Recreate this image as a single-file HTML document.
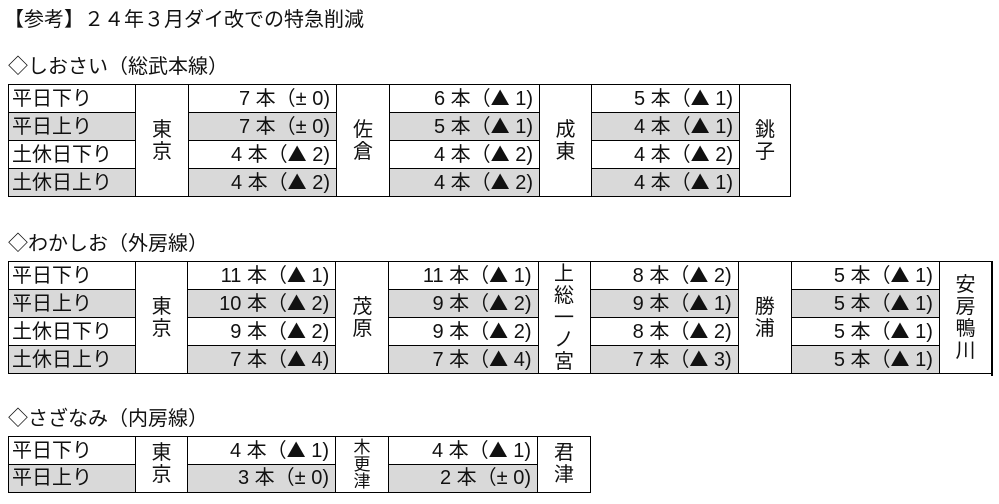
<!DOCTYPE html>
<html><head><meta charset="utf-8"><style>
body{margin:0;width:999px;height:504px;background:#fff;font-family:"Liberation Sans","Noto Sans CJK JP",sans-serif;color:#111;position:relative;overflow:hidden}
.t{position:absolute;font-size:20px;white-space:nowrap;line-height:24px}
table{position:absolute;border-collapse:collapse;font-size:20px;left:8px;table-layout:fixed}
td{border:1.5px solid #000;height:27.5px;padding:0;line-height:26px;white-space:nowrap;overflow:hidden;box-sizing:border-box}
td.l{padding-left:3px;text-align:left}
td.c{text-align:right;padding-right:6px}
td.s{text-align:center;line-height:22px;vertical-align:middle}
tr.g td.l,tr.g td.c{background:#d9d9d9}
b{font-weight:normal;font-family:"Noto Sans CJK JP",sans-serif;font-size:19px}
</style></head><body>
<div class="t" style="left:4px;top:8px">【参考】２４年３月ダイ改での特急削減</div>
<div class="t" style="left:8px;top:55px">◇しおさい（総武本線）</div>
<table style="top:84px;width:782px">
<colgroup><col style="width:127px"><col style="width:53px"><col style="width:148px"><col style="width:53px"><col style="width:150px"><col style="width:52px"><col style="width:148px"><col style="width:51px"></colgroup>
<tr><td class="l">平日下り</td><td class="s" rowspan="4">東<br>京</td><td class="c">7 本（± 0)</td><td class="s" rowspan="4">佐<br>倉</td><td class="c">6 本（<b>▲</b> 1)</td><td class="s" rowspan="4">成<br>東</td><td class="c">5 本（<b>▲</b> 1)</td><td class="s" rowspan="4">銚<br>子</td></tr>
<tr class="g"><td class="l">平日上り</td><td class="c">7 本（± 0)</td><td class="c">5 本（<b>▲</b> 1)</td><td class="c">4 本（<b>▲</b> 1)</td></tr>
<tr><td class="l">土休日下り</td><td class="c">4 本（<b>▲</b> 2)</td><td class="c">4 本（<b>▲</b> 2)</td><td class="c">4 本（<b>▲</b> 2)</td></tr>
<tr class="g"><td class="l">土休日上り</td><td class="c">4 本（<b>▲</b> 2)</td><td class="c">4 本（<b>▲</b> 2)</td><td class="c">4 本（<b>▲</b> 1)</td></tr>
</table>
<div class="t" style="left:8px;top:232px">◇わかしお（外房線）</div>
<table style="top:261px;width:984px">
<colgroup><col style="width:127px"><col style="width:52px"><col style="width:148px"><col style="width:53px"><col style="width:149px"><col style="width:52px"><col style="width:148px"><col style="width:53px"><col style="width:148px"><col style="width:52px"></colgroup>
<tr><td class="l">平日下り</td><td class="s" rowspan="4">東<br>京</td><td class="c">11 本（<b>▲</b> 1)</td><td class="s" rowspan="4">茂<br>原</td><td class="c">11 本（<b>▲</b> 1)</td><td class="s" rowspan="4" style="line-height:22px">上<br>総<br>一<br>ノ<br>宮</td><td class="c">8 本（<b>▲</b> 2)</td><td class="s" rowspan="4">勝<br>浦</td><td class="c">5 本（<b>▲</b> 1)</td><td class="s" rowspan="4">安<br>房<br>鴨<br>川</td></tr>
<tr class="g"><td class="l">平日上り</td><td class="c">10 本（<b>▲</b> 2)</td><td class="c">9 本（<b>▲</b> 2)</td><td class="c">9 本（<b>▲</b> 1)</td><td class="c">5 本（<b>▲</b> 1)</td></tr>
<tr><td class="l">土休日下り</td><td class="c">9 本（<b>▲</b> 2)</td><td class="c">9 本（<b>▲</b> 2)</td><td class="c">8 本（<b>▲</b> 2)</td><td class="c">5 本（<b>▲</b> 1)</td></tr>
<tr class="g"><td class="l">土休日上り</td><td class="c">7 本（<b>▲</b> 4)</td><td class="c">7 本（<b>▲</b> 4)</td><td class="c">7 本（<b>▲</b> 3)</td><td class="c">5 本（<b>▲</b> 1)</td></tr>
</table>
<div style="position:absolute;left:991px;top:261px;width:1.5px;height:115px;background:#000"></div>
<div class="t" style="left:8px;top:407px">◇さざなみ（内房線）</div>
<table style="top:436px;width:582px">
<colgroup><col style="width:127px"><col style="width:52px"><col style="width:148px"><col style="width:53px"><col style="width:149px"><col style="width:53px"></colgroup>
<tr><td class="l">平日下り</td><td class="s" rowspan="2">東<br>京</td><td class="c">4 本（<b>▲</b> 1)</td><td class="s" rowspan="2" style="font-size:17px;line-height:17px">木<br>更<br>津</td><td class="c">4 本（<b>▲</b> 1)</td><td class="s" rowspan="2">君<br>津</td></tr>
<tr class="g"><td class="l">平日上り</td><td class="c">3 本（± 0)</td><td class="c">2 本（± 0)</td></tr>
</table>
</body></html>
